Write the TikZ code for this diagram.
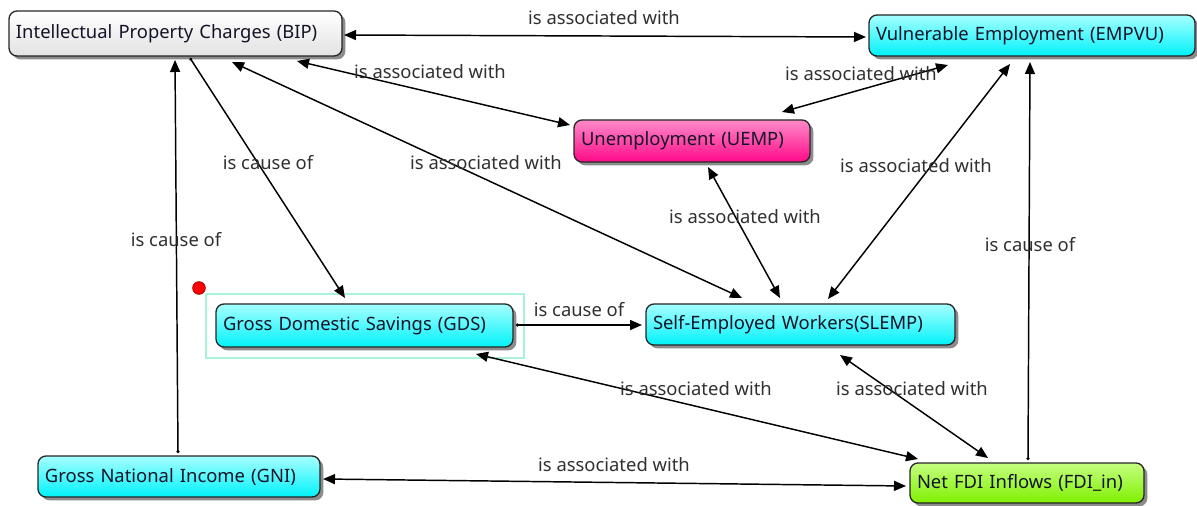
\documentclass[tikz,border=0pt]{standalone}
\usepackage{fontspec}
\setmainfont{Noto Sans}
\usetikzlibrary{arrows.meta,shadows,calc}
\definecolor{cyantop}{HTML}{A6FFFF}
\definecolor{cyanbot}{HTML}{00F2FA}
\definecolor{pinktop}{HTML}{FF8AC8}
\definecolor{pinkbot}{HTML}{FF0A8A}
\definecolor{greentop}{HTML}{C4FF80}
\definecolor{greenbot}{HTML}{80F000}
\definecolor{graytop}{HTML}{FFFFFF}
\definecolor{graybot}{HTML}{E2E2E2}
\definecolor{selc}{HTML}{A8F2D8}
\definecolor{nodetext}{HTML}{141428}
\definecolor{lbltext}{HTML}{303030}
\begin{document}
\begin{tikzpicture}[x=0.75pt,y=-0.75pt,
  box/.style={draw=black!85, line width=1pt, rounded corners=6pt,
    inner xsep=5.25pt, inner ysep=0pt, align=left,
    font=\fontsize{13.8}{15}\selectfont, text=nodetext,
    drop shadow={shadow xshift=2.5pt, shadow yshift=-2.5pt, fill=black, opacity=0.45}},
  cyanbox/.style={box, top color=cyantop, bottom color=cyanbot},
  pinkbox/.style={box, top color=pinktop, bottom color=pinkbot},
  greenbox/.style={box, top color=greentop, bottom color=greenbot},
  graybox/.style={box, top color=graytop, bottom color=graybot},
  edge/.style={line width=1.1pt, black},
  tipT/.tip={Triangle[length=9pt,width=7.5pt]},
  bi/.style={edge, tipT-tipT},
  uni/.style={edge, {Circle[length=2.2pt]}-tipT},
  lbl/.style={text=lbltext, font=\fontsize{13.8}{15}\selectfont, inner sep=0pt}]
\useasboundingbox (0,0) rectangle (1197,506);

% selection frame and marker
\draw[selc, line width=2pt] (206,294) rectangle (524,358);
\fill[red, draw=red!60!black, line width=0.5pt] (199,288) circle[radius=4.8pt];

% nodes
\node[graybox, text width=239.25pt, minimum height=33.75pt] (BIP) at (175.5,33.5) {Intellectual Property Charges (BIP)};
\node[cyanbox, text width=234pt, minimum height=30.75pt] (EMPVU) at (1032,35.5) {Vulnerable Employment (EMPVU)};
\node[pinkbox, text width=166.5pt, minimum height=31.5pt] (UEMP) at (692,141) {Unemployment (UEMP)};
\node[cyanbox, text width=212.25pt, minimum height=32.25pt] (GDS) at (364.5,325.5) {Gross Domestic Savings (GDS)};
\node[cyanbox, text width=221.25pt, minimum height=30.75pt] (SLEMP) at (800.5,324.5) {Self-Employed Workers(SLEMP)};
\node[cyanbox, text width=201pt, minimum height=30.75pt] (GNI) at (179,476.5) {Gross National Income (GNI)};
\node[greenbox, text width=165pt, minimum height=30pt] (FDI) at (1027,483) {Net FDI Inflows (FDI\_in)};

% connectors
\draw[bi] ($(BIP)+(168.5,1.5)$) -- ($(EMPVU)+(-166,1.5)$);
\draw[bi] ($(BIP)+(121.5,27.5)$) -- ($(UEMP)+(-122,-16)$);
\draw[bi] ($(UEMP)+(90,-29)$) -- ($(EMPVU)+(-84,29.5)$);
\draw[uni] ($(BIP)+(14.5,24.5)$) -- ($(GDS)+(-19.5,-27.5)$);
\draw[bi] ($(BIP)+(56.5,28.5)$) -- ($(SLEMP)+(-58.5,-26.5)$);
\draw[uni] ($(GNI)+(-1,-23.5)$) -- ($(BIP)+(-0.5,26.5)$);
\draw[bi] ($(UEMP)+(16,26)$) -- ($(SLEMP)+(-20.5,-26.5)$);
\draw[bi] ($(SLEMP)+(27.5,-25.5)$) -- ($(EMPVU)+(-22,28.5)$);
\draw[uni] ($(FDI)+(1,-23)$) -- ($(EMPVU)+(-2,26.5)$);
\draw[uni] ($(GDS)+(151.5,-0.5)$) -- ($(SLEMP)+(-158.5,0.5)$);
\draw[bi] ($(GDS)+(111.5,28.5)$) -- ($(FDI)+(-109,-24)$);
\draw[bi] ($(SLEMP)+(39.5,30.5)$) -- ($(FDI)+(-39,-25)$);
\draw[bi] ($(GNI)+(144,2.5)$) -- ($(FDI)+(-121,3)$);

% labels
\node[lbl] (L1) at (604,18) {is associated with};
\node[lbl] (L2) at (430,72) {is associated with};
\node[lbl] (L3) at (861,74) {is associated with};
\node[lbl] (L4) at (268,163) {is cause of};
\node[lbl] (L5) at (486,163) {is associated with};
\node[lbl] (L6) at (176,240) {is cause of};
\node[lbl] (L7) at (745,217) {is associated with};
\node[lbl] (L8) at (916,166) {is associated with};
\node[lbl] (L9) at (1030,245) {is cause of};
\node[lbl] (L10) at (579,310) {is cause of};
\node[lbl] (L11) at (696,389) {is associated with};
\node[lbl] (L12) at (912,389) {is associated with};
\node[lbl] (L13) at (614,465) {is associated with};
\end{tikzpicture}
\end{document}
